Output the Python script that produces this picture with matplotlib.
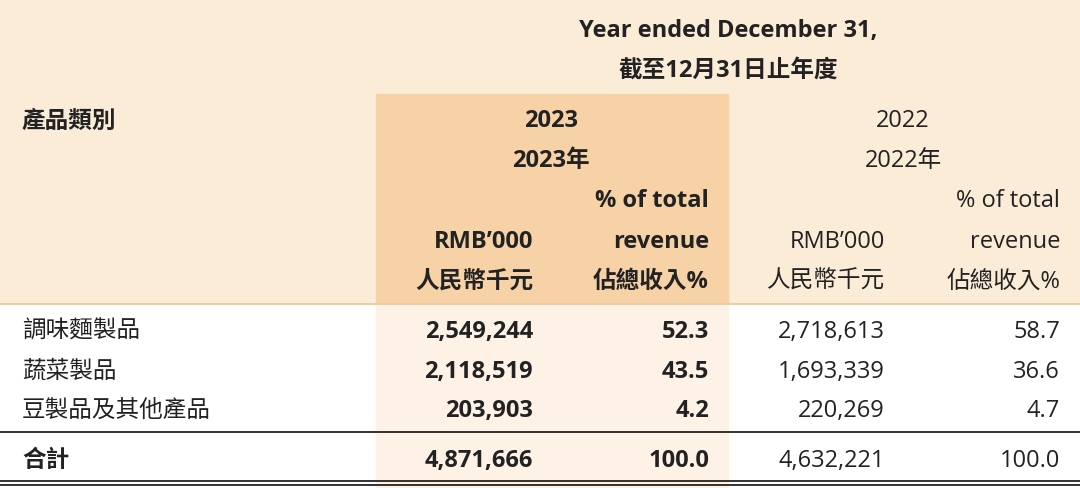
import matplotlib.pyplot as plt
from matplotlib.patches import Rectangle

plt.rcParams['font.family'] = ['Open Sans', 'Noto Sans CJK TC', 'DejaVu Sans']

categories = ["調味麵製品", "蔬菜製品", "豆製品及其他產品"]
rmb_2023 = ["2,549,244", "2,118,519", "203,903"]
pct_2023 = ["52.3", "43.5", "4.2"]
rmb_2022 = ["2,718,613", "1,693,339", "220,269"]
pct_2022 = ["58.7", "36.6", "4.7"]
total_label = "合計"
total_2023 = ["4,871,666", "100.0"]
total_2022 = ["4,632,221", "100.0"]

fig = plt.figure(figsize=(10.8, 4.89), dpi=100)
ax = fig.add_axes([0, 0, 1, 1])
ax.set_xlim(0, 1080)
ax.set_ylim(489, 0)
ax.axis("off")

# ===== BACKGROUNDS =====
ax.add_patch(Rectangle((0, 0), 1080, 305, color="#fbecd8", zorder=0))
ax.add_patch(Rectangle((376, 95), 352, 210, color="#f6d2a6", zorder=1))
ax.add_patch(Rectangle((376, 305), 352, 184, color="#fdf2e5", zorder=1))

# ===== LINES =====
ax.plot([0, 1080], [305, 305], color="#e8c9a0", lw=1.2, zorder=2)
ax.plot([0, 1080], [433, 433], color="#222222", lw=1.3, zorder=2)
ax.plot([0, 1080], [482, 482], color="#222222", lw=1.3, zorder=2)
ax.plot([0, 1080], [486, 486], color="#222222", lw=1.3, zorder=2)

fs = 17
c = "#222222"

# ===== HEADER =====
ax.text(728, 31, "Year ended December 31,", ha="center", va="center", fontsize=fs, weight="bold", color=c)
ax.text(728, 71, "截至12月31日止年度", ha="center", va="center", fontsize=fs, weight="bold", color=c)
ax.text(22, 122, "產品類別", ha="left", va="center", fontsize=fs, weight="bold", color=c)
ax.text(551, 121, "2023", ha="center", va="center", fontsize=fs, weight="bold", color=c)
ax.text(551, 161, "2023年", ha="center", va="center", fontsize=fs, weight="bold", color=c)
ax.text(903, 121, "2022", ha="center", va="center", fontsize=fs, color=c)
ax.text(903, 161, "2022年", ha="center", va="center", fontsize=fs, color=c)

ax.text(709, 201, "% of total", ha="right", va="center", fontsize=fs, weight="bold", color=c)
ax.text(533, 242, "RMB’000", ha="right", va="center", fontsize=fs, weight="bold", color=c)
ax.text(709, 242, "revenue", ha="right", va="center", fontsize=fs, weight="bold", color=c)
ax.text(533, 282, "人民幣千元", ha="right", va="center", fontsize=fs, weight="bold", color=c)
ax.text(709, 282, "佔總收入%", ha="right", va="center", fontsize=fs, weight="bold", color=c)

ax.text(1060, 201, "% of total", ha="right", va="center", fontsize=fs, color=c)
ax.text(885, 242, "RMB’000", ha="right", va="center", fontsize=fs, color=c)
ax.text(1060, 242, "revenue", ha="right", va="center", fontsize=fs, color=c)
ax.text(885, 282, "人民幣千元", ha="right", va="center", fontsize=fs, color=c)
ax.text(1060, 282, "佔總收入%", ha="right", va="center", fontsize=fs, color=c)

# ===== BODY =====
row_y = [332, 372, 411]
for i, y in enumerate(row_y):
    ax.text(22, y, categories[i], ha="left", va="center", fontsize=fs, color=c)
    ax.text(533, y, rmb_2023[i], ha="right", va="center", fontsize=fs, weight="bold", color=c)
    ax.text(709, y, pct_2023[i], ha="right", va="center", fontsize=fs, weight="bold", color=c)
    ax.text(885, y, rmb_2022[i], ha="right", va="center", fontsize=fs, color=c)
    ax.text(1060, y, pct_2022[i], ha="right", va="center", fontsize=fs, color=c)

y = 461
ax.text(22, y, total_label, ha="left", va="center", fontsize=fs, weight="bold", color=c)
ax.text(533, y, total_2023[0], ha="right", va="center", fontsize=fs, weight="bold", color=c)
ax.text(709, y, total_2023[1], ha="right", va="center", fontsize=fs, weight="bold", color=c)
ax.text(885, y, total_2022[0], ha="right", va="center", fontsize=fs, color=c)
ax.text(1060, y, total_2022[1], ha="right", va="center", fontsize=fs, color=c)

fig.savefig("out.png", dpi=100)
